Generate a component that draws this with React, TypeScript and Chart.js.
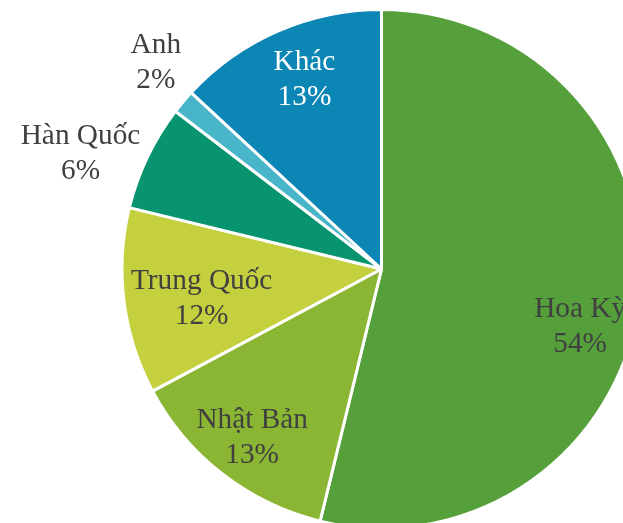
import React, { useEffect, useRef } from "react";
import { Chart, registerables } from "chart.js";

Chart.register(...registerables);

const categories = ["Hoa Kỳ", "Nhật Bản", "Trung Quốc", "Hàn Quốc", "Anh", "Khác"];
const shares = [53.8, 13.4, 11.6, 6.6, 1.5, 13.1];
const percentLabels = ["54%", "13%", "12%", "6%", "2%", "13%"];
const sliceColors = ["#55A03A", "#8BB634", "#C4D03E", "#07946F", "#48B6C8", "#0C86B4"];

// label placement relative to slice: [radius factor, angle offset in degrees, color]
const labelPlacement: [number, number, string][] = [
  [0.793, 8.3, "#404040"],
  [0.806, 0.4, "#404040"],
  [0.70, -0.9, "#404040"],
  [1.248, -3.9, "#404040"],
  [1.188, 2.8, "#404040"],
  [0.80, 1.8, "#FFFFFF"],
];

const CANVAS_W = 900;
const CANVAS_H = 700;
const CX = 381.5;
const CY = 269;
const R = 261;

const labelPlugin = {
  id: "sliceLabels",
  afterDatasetsDraw(chart: any) {
    const ctx = chart.ctx;
    const meta = chart.getDatasetMeta(0);
    ctx.save();
    ctx.font = "29.3px 'Liberation Serif', 'Times New Roman', serif";
    ctx.textAlign = "center";
    ctx.textBaseline = "middle";
    meta.data.forEach((arc: any, i: number) => {
      const p = arc.getProps(["x", "y", "startAngle", "endAngle", "outerRadius"], true);
      const [f, off, col] = labelPlacement[i];
      const mid = (p.startAngle + p.endAngle) / 2 + (off * Math.PI) / 180;
      const r = p.outerRadius * f;
      const x = p.x + Math.cos(mid) * r;
      const y = p.y + Math.sin(mid) * r + 4;
      ctx.fillStyle = col;
      ctx.fillText(categories[i], x, y - 17.5);
      ctx.fillText(percentLabels[i], x, y + 17.5);
    });
    ctx.restore();
  },
};

export default function App() {
  const ref = useRef<HTMLCanvasElement>(null);
  useEffect(() => {
    if (!ref.current) return;
    const chart = new Chart(ref.current, {
      type: "pie",
      data: {
        labels: categories,
        datasets: [
          {
            data: shares,
            backgroundColor: sliceColors,
            borderColor: "#FFFFFF",
            borderWidth: 3,
          },
        ],
      },
      options: {
        responsive: false,
        animation: false,
        layout: {
          padding: {
            left: CX - R,
            right: CANVAS_W - CX - R,
            top: CY - R,
            bottom: CANVAS_H - CY - R,
          },
        },
        plugins: {
          legend: { display: false },
          tooltip: { enabled: false },
        },
      },
      plugins: [labelPlugin],
    });
    return () => chart.destroy();
  }, []);
  return (
    <div
      style={{
        position: "fixed",
        left: 0,
        top: 0,
        width: 623,
        height: 523,
        overflow: "hidden",
        background: "#FFFFFF",
      }}
    >
      <canvas
        ref={ref}
        width={CANVAS_W}
        height={CANVAS_H}
        style={{ position: "absolute", left: 0, top: 0, width: CANVAS_W, height: CANVAS_H }}
      />
    </div>
  );
}
